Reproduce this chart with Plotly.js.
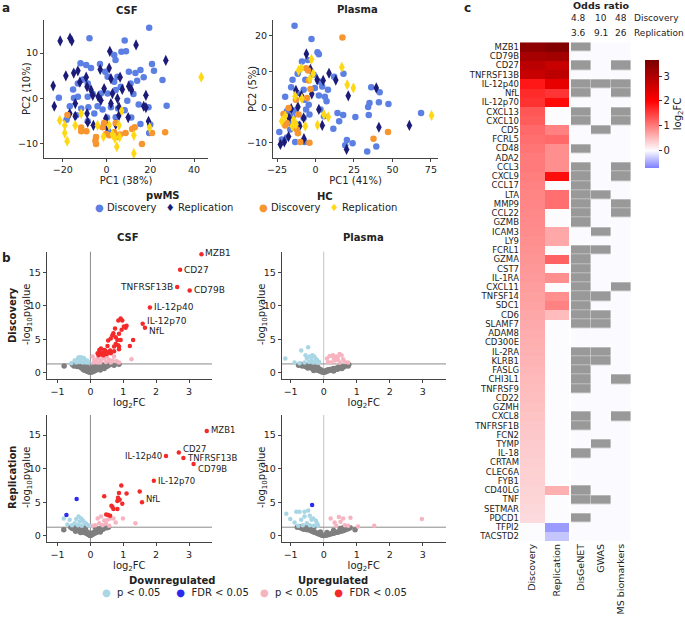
<!DOCTYPE html>
<html><head><meta charset="utf-8">
<script src="https://cdn.plot.ly/plotly-3.0.1.min.js"></script>
<style>html,body{margin:0;padding:0;background:#fff}#chart{width:685px;height:617px}</style>
</head><body><div id="chart"></div>
<script>
// ---------- Panel a: PCA ----------
const csfMsDiscPC1 = [19.5,-7.8,8.3,6.8,8.9,3.5,4.1,20.8,21.7,-11.9,-9.3,-7.1,-3,15.5,13.2,10.2,25.6,27.5,-0.6,0.5,3.5,5,-8.6,-10.8,-13.1,-15.3,-21.8,-14.9,-13.1,-8.6,-6.3,-2.6,0.5,4.2,6.5,11,14,17,12.3,14.7,19.2,-16.8,-11.6,-8.3,-4.1,-1.8,2,5.3,8.3,-5.6,0.2,4.2,11.3,-8.6,-13.8,-18.3,15.5,19.5,20,0.8,9.5];
const csfMsDiscPC2 = [15.6,13.3,12.8,10.3,10.4,9.6,8.5,7.6,6.1,7.8,7.4,6.7,7.6,6.3,5.6,5.9,4.1,-1.6,5.9,4.8,3.7,4.8,3.3,4.2,3.3,2,0.2,0.1,0.4,0.4,1,1.1,1.1,1.9,2.6,3.3,3.9,4.7,1,-1.3,-1.9,-1.7,-2.2,-1.9,-1.7,-2.4,-1.9,-2.2,-2.6,-3.3,-4.2,-4.1,-4.2,-5,-3.7,-4.7,-5.6,-7.6,-5.7,-7.2,-0.5];
const csfMsRepPC1 = [-21.2,-16.7,-15.9,13.5,1.5,27.1,-18.6,-15,-13.1,-2.9,1.2,2,6.2,-24.4,-12.2,-9.3,-8.9,-7.1,-6.3,-3.8,-1.1,2.7,5,7.2,10.2,11.4,18,-23.9,-14.3,-2.6,2,5.7,17,18,-16.8,-14.3,-8.9,-0.3,5.7,9.9,19.2,-8.6,-6,0.2,4.2];
const csfMsRepPC2 = [12.7,13.3,12.7,11.8,10.4,8.4,5,5.6,6.1,6.4,6.7,4.4,4.7,2.8,3.6,4.7,2.6,1.9,0.7,0.4,2.2,1.1,0,2,2.7,1.9,0.7,-1.7,-1.1,-0.4,-1.1,-1.9,-1.7,-2,-3.3,-3.9,-3.3,-4.4,-3.7,-4.2,-5,-5.2,-5.9,-6.1,-5.7];
const csfHcDiscPC1 = [-17.9,-11.6,-11.6,-9.2,-4.8,-4.8,-5.1,-1.1,-0.3,1.2,3.5,4.2,5,6.2,11.7,12.9,16.2,20.8,26.8,-1.8,8.7];
const csfHcDiscPC2 = [-3.6,-6.4,-7.2,-7.2,-8.5,-10,-9.3,-5.4,-7.8,-8.1,-7.4,-5.4,-8.5,-7.9,-6.7,-6.3,-10,-7.6,-7.4,-6.3,-7.6];
const csfHcRepPC1 = [-21.4,-19.1,-19.1,-18,-14.3,-11.6,-4.1,-1.4,1.2,2.7,3.8,4.7,6,6.9,12.5,12.5,19.7,43.3,5.7];
const csfHcRepPC2 = [-4.8,-5.9,-7.6,-9.4,-5.9,-3.3,-5.9,-8.4,-5.9,-7.9,-8.7,-10.6,-8.5,-2.7,-8.1,-12.1,-6.4,4.7,-5.9];

const plMsDiscPC1 = [-13.6,-2.6,1.3,2.2,-5,-8.8,-11.6,-14.9,-6.6,-1.1,2.2,4.4,-15.8,-19.7,-12.1,-7.7,-0.4,2.2,6.1,7.2,8.1,12.1,18.2,14.3,18,15.4,11.6,25.9,34.2,34.6,35.1,36.2,41.7,41.2,47.4,68.6,39.5,33.6,24.1,19.3,20.4,-23.5,-21.9,-18.6,-16.4,-13.2,-7,-11,-7.7,-13.6,-18.6,-6.1,-3.9,-7,-4.4,-14.9,-16.4,3.3,5.5];
const plMsDiscPC2 = [22.8,19.1,15.4,14.8,13.2,12.8,9.4,7.7,7.7,9.1,7.2,5.8,5.6,2.9,4,4.9,5.4,3.3,2.9,1.7,4.9,8.5,9.4,-1.6,-2.2,-3.9,-6,-2.7,0.1,-2.2,1.2,5.6,4.2,1.4,0.9,-1.6,-11,-12.4,-10.1,-10.6,-9.2,-6.9,-9,-8.5,-6.2,-9.7,-9.7,-4.8,-3,-0.9,-1.1,-0.6,-2,2.1,0.7,-2.5,-4.4,-0.6,-2.5];
const plMsRepPC1 = [-5.9,-3.3,1.1,5,8.8,13.2,21.3,39.5,41.2,61,20.2,-22.8,-20.2,-17.5,-12.7,-11.4,-9.2,-7.7,-10.3,-7.5,4.4,-2.4,-15.8,2.2,-17.1];
const plMsRepPC2 = [14.9,10.6,7.7,7.5,9.5,7.6,3.2,5.4,-5.6,-5.1,-11.8,-10.4,-9.7,-8.2,4.7,0.1,3.3,-3,-5.3,-8.8,-5.1,3.7,-0.4,-0.6,-3];
const plHcDiscPC1 = [17.5,-6.1,-4.8,-4.4,-3.3,-5.5,-12.7,-17.5,-20.8,-18.6,-11,-12.1,-11.4,-9.9,-3.9,37.7,47.1,-19.7];
const plHcDiscPC2 = [19.5,10.9,10.3,7.5,5.1,2.6,2.1,-0.2,-1.9,-4.4,-2,-6.2,-7.3,-9.7,-9.9,-8.8,-6.9,-5.1];
const plHcRepPC1 = [-9.2,-11,-2.6,-1.5,-3.7,-8.8,-13.2,-21.9,-19.7,-14.3,-12.7,-6.6,1.3,5.5,8.3,17.1,20.6,24.6,75.4,-15.1];
const plHcRepPC2 = [10.9,10.3,13.4,9.4,7.9,2.4,3.1,-3.9,-2.5,-3.6,-4.8,-5.3,-5,-2,-2.7,11.2,6.3,5.4,-2.3,-5.3];

// ---------- Panel b: volcano plots ----------
const pThreshold = 1.3; // -log10(0.05)
const csfDiscLabels = ['MZB1','CD27','TNFRSF13B','CD79B','IL-12p40','IL-12p70','NfL'];
const csfDiscRedX = [3.38,2.73,2.64,3.02,1.81,1.59,1.66,0.85,0.92,0.97,1.07,1.1,0.75,0.77,0.62,0.67,0.87,0.82,0.54,1.3,1.2,0.84,0.52,0.32,0.27,0.42,0.55,0.72,0.87,0.22,0.37,0.5,0.62,0.77,0.72,0.87,0.92,0.7,0.3,0.35,0.45,0.4,0.48,0.6,0.25,0.95,1.02];
const csfDiscRedY = [17.7,15.4,12.8,12.3,9.75,7.3,6.7,7.8,8.1,7.8,6.7,7.0,6.6,5.3,5.1,5.6,5.8,4.9,4.8,4.9,4.0,4.1,4.0,3.6,3.4,3.4,3.1,3.2,3.5,2.9,2.9,2.8,2.9,4.3,3.9,3.9,4.9,5.9,3.0,2.7,3.3,2.6,3.0,3.3,2.6,6.4,6.9];
const csfDiscPinkX = [1.25,0.87,0.72,0.07,0.12,0.22,0.32,0.42,0.17,0.3,0.47,0.57,0.62,0.37,0.5,0.22,0.1,0.68,0.8];
const csfDiscPinkY = [2.0,1.5,2.4,2.4,1.9,2.1,1.9,2.1,1.6,1.5,1.6,1.9,1.5,2.4,2.3,1.5,1.5,1.8,1.7];
const csfDiscLbX = [-0.58,-0.48,-0.38,-0.28,-0.18,-0.1,-0.33,-0.23,-0.43,-0.13,-0.3,-0.06,-0.2,-0.35];
const csfDiscLbY = [1.4,1.8,2.1,2.3,2.0,1.8,1.6,1.5,1.5,1.5,1.9,1.5,2.2,2.3];
const csfDiscGrayX = [-0.8,-0.55,-0.5,-0.45,-0.4,-0.4,-0.35,-0.3,-0.28,-0.25,-0.22,-0.2,-0.18,-0.15,-0.12,-0.1,-0.1,-0.08,-0.05,-0.03,-0.02,0,0,0.02,0.05,0.05,0.07,0.1,0.1,0.12,0.15,0.17,0.2,0.22,0.25,0.28,0.3,0.3,0.33,0.35,0.4,0.42,0.45,0.5,0.55,0.6,0.72,0.87];
const csfDiscGrayY = [1.0,1.2,1.0,1.1,0.9,1.25,1.2,0.8,1.0,0.6,0.9,0.4,1.1,0.3,0.7,0.2,0.9,0.5,0.1,0.3,0.6,0.05,0.4,0.2,0.1,0.7,0.4,0.2,0.9,0.6,0.3,0.9,0.5,1.1,0.7,1.0,0.4,1.1,1.2,0.8,1.0,0.6,1.2,0.9,1.1,1.2,1.1,1.25];
const plDiscLbX = [-1.16,-0.88,-0.73,-0.68,-0.47,-0.55,-0.51,-0.42,-0.34,-0.29,-0.24,-0.2,-0.37,-0.44,-0.27,-0.17,-0.14,-0.58,-0.32];
const plDiscLbY = [2.1,1.5,1.4,3.3,3.8,2.6,2.1,2.4,2.6,2.4,2.1,1.9,1.9,1.6,1.6,1.5,1.6,1.5,1.5];
const plDiscPinkX = [0.1,0.18,0.28,0.38,0.48,0.54,0.43,0.59,0.74,0.64,0.33,0.13,0.23,0.5,0.3,0.42];
const plDiscPinkY = [2.1,2.5,2.6,2.4,2.8,2.6,1.9,2.0,1.5,1.6,1.8,1.6,1.5,1.5,2.2,2.3];
const plDiscGrayX = [-0.76,-0.7,-0.65,-0.6,-0.55,-0.5,-0.48,-0.45,-0.4,-0.38,-0.35,-0.3,-0.28,-0.25,-0.2,-0.18,-0.15,-0.12,-0.1,-0.08,-0.05,-0.02,0,0.02,0.05,0.08,0.1,0.12,0.15,0.18,0.2,0.25,0.28,0.3,0.35,0.4,0.42,0.45,0.5,0.55,0.6,0.65,0.7,0.74,0.76,0.3,-0.3,0.55];
const plDiscGrayY = [1.1,1.2,1.0,1.25,0.9,1.1,0.7,1.2,0.8,1.0,0.6,0.9,0.5,0.7,0.4,0.8,0.3,0.5,0.2,0.4,0.1,0.2,0.05,0.15,0.1,0.3,0.2,0.4,0.3,0.45,0.35,0.5,0.4,0.6,0.55,0.7,0.5,0.8,0.75,0.9,0.85,1.0,1.1,1.0,1.2,0.25,0.3,0.6];
const csfRepLabels = ['MZB1','CD27','TNFRSF13B','CD79B','IL-12p40','IL-12p70','NfL'];
const csfRepRedX = [3.54,2.69,2.83,3.14,2.3,1.93,1.57,0.94,0.87,1.1,1.5,0.42,0.84,0.89,0.82,0.97,0.64,0.67,0.7,0.82,0.48,0.54,0.6];
const csfRepRedY = [15.6,12.4,11.6,10.7,11.9,8.2,5.0,7.5,6.4,6.3,6.6,5.9,5.7,5.4,5.2,4.8,4.5,4.3,4.0,4.0,3.2,3.1,3.0];
const csfRepBlueX = [-0.42,-0.73];
const csfRepBlueY = [5.5,3.1];
const csfRepLbX = [-0.81,-0.63,-0.36,-0.43,-0.28,-0.23,-0.18,-0.33,-0.13,-0.48,-0.08,-0.56,-0.38,-0.26,-0.03,-0.7];
const csfRepLbY = [2.6,2.4,2.9,2.5,2.6,2.3,2.0,2.1,1.8,1.9,1.6,1.6,1.6,1.5,1.5,1.7];
const csfRepPinkX = [0.22,0.32,0.42,0.52,0.6,0.7,0.77,0.99,1.37,0.27,0.37,0.47,0.57,0.15,0.07];
const csfRepPinkY = [2.6,2.9,2.3,2.4,2.6,2.6,2.0,2.6,1.9,1.9,1.6,1.8,1.5,1.6,1.5];
const csfRepGrayX = [-0.81,-0.6,-0.55,-0.5,-0.45,-0.4,-0.38,-0.35,-0.3,-0.28,-0.25,-0.22,-0.2,-0.18,-0.15,-0.12,-0.1,-0.08,-0.05,-0.02,0,0.02,0.05,0.08,0.1,0.12,0.15,0.18,0.2,0.22,0.25,0.28,0.3,0.33,0.35,0.38,0.4,0.45,0.5,0.55,-0.3,0.3,-0.15,0.15,0,-0.45];
const csfRepGrayY = [0.9,1.3,1.1,1.2,1.0,1.25,0.8,1.1,0.9,0.7,1.2,0.6,1.0,0.5,0.8,0.4,0.6,0.3,0.2,0.1,0.05,0.15,0.2,0.3,0.5,0.4,0.6,0.5,0.8,0.7,1.0,0.8,1.1,0.9,1.2,1.0,1.1,1.25,1.2,1.3,0.5,0.6,1.2,1.2,0.4,0.7];
const plRepBlueX = [-0.35];
const plRepBlueY = [4.6];
const plRepLbX = [-1.13,-1.01,-0.83,-0.73,-0.58,-0.47,-0.88,-0.68,-0.58,-0.42,-0.37,-0.32,-0.24,-0.2,-0.51,-0.63,-0.42,-0.3,-0.77,-0.17];
const plRepLbY = [3.3,2.5,3.6,3.6,3.6,3.8,2.0,2.4,2.9,3.0,2.4,2.6,2.3,1.9,1.9,1.6,1.6,1.5,1.5,1.5];
const plRepPinkX = [0.21,0.46,0.59,0.81,0.33,0.51,0.64,0.74,1.04,1.53,2.97,0.38];
const plRepPinkY = [2.6,2.8,2.6,2.7,2.0,2.1,1.6,1.5,1.4,1.5,2.5,1.5];
const plRepGrayX = [-0.8,-0.7,-0.65,-0.6,-0.55,-0.5,-0.45,-0.4,-0.35,-0.3,-0.25,-0.2,-0.15,-0.1,-0.05,0,0.05,0.1,0.15,0.2,0.25,0.3,0.35,0.4,0.45,0.5,0.55,0.6,0.65,0.7,0.75,0.8,0.95,-0.5,-0.3,-0.1,0.1,0.3,0.5,0.7,-0.7,0.6];
const plRepGrayY = [1.3,1.2,1.1,1.0,1.2,0.9,1.1,0.8,0.7,0.6,0.5,0.4,0.3,0.2,0.1,0.05,0.1,0.15,0.2,0.3,0.35,0.4,0.5,0.55,0.6,0.7,0.75,0.8,0.9,1.0,1.1,1.2,0.9,1.3,1.2,0.6,0.5,0.8,1.1,1.3,1.35,1.25];

// ---------- Panel c: heatmap ----------
const genes = ['MZB1','CD79B','CD27','TNFRSF13B','IL-12p40','NfL','IL-12p70','CXCL13','CXCL10','CD5','FCRL5','CD48','ADA2','CCL3','CXCL9','CCL17','LTA','MMP9','CCL22','GZMB','ICAM3','LY9','FCRL1','GZMA','CST7','IL-1RA','CXCL11','TNFSF14','SDC1','CD6','SLAMF7','ADAM8','CD300E','IL-2RA','KLRB1','FASLG','CHI3L1','TNFRSF9','CD22','GZMH','CXCL8','TNFRSF1B','FCN2','TYMP','IL-18','CRTAM','CLEC6A','FYB1','CD40LG','TNF','SETMAR','PDCD1','TFPI2','TACSTD2'];
const discFC = [3.4,3.1,2.85,2.7,1.81,1.66,1.59,1.3,1.25,1.15,1.1,1.05,1.0,1.0,0.97,0.95,0.93,0.92,0.9,0.88,0.87,0.85,0.82,0.8,0.78,0.76,0.74,0.72,0.7,0.66,0.64,0.62,0.6,0.58,0.56,0.54,0.52,0.5,0.48,0.46,0.44,0.42,0.4,0.38,0.37,0.35,0.34,0.33,0.31,0.3,0.28,0.26,0,0];
const repFC = [3.54,3.14,2.69,2.83,2.3,1.57,1.93,0,0,0.95,1.15,0.85,0.85,0.85,1.9,0,1.1,1.1,0,0,0.65,0.65,0,1.2,0,0.85,0,0.85,0.95,0.5,0,0,0,0,0,0,0,0,0,0,0,0,0,0,0,0,0,0,0.6,0,0,0,-0.55,-0.3];
const disgenet = [1,0,1,0,1,1,0,1,1,0, 0,1,0,1,1,1,1,1,1,1, 0,0,1,1,1,1,1,1,1,1, 1,0,0,1,1,1,1,1,0,0, 1,1,0,0,1,0,0,0,1,1, 0,1,0,0];
const gwas     = [0,0,0,0,1,0,0,0,0,1, 0,0,0,0,0,0,1,0,0,0, 1,0,1,0,0,0,0,1,0,1, 1,0,0,1,1,0,0,0,0,0, 0,0,0,1,0,0,0,0,0,1, 0,0,0,0];
const msBiomarkers = [0,0,1,0,1,1,0,1,1,0, 0,0,0,1,1,0,0,1,1,0, 0,0,0,0,0,0,1,0,0,0, 0,0,0,0,0,0,1,0,0,0, 1,0,0,0,0,0,0,0,0,0, 0,0,0,0];
const heatCols = ['Discovery','Replication'];
const annotCols = ['DisGeNET','GWAS','MS biomarkers'];
const oddsDisc = ['4.8','10','48'];
const oddsRep = ['3.6','9.1','26'];

// ---------- build ----------
const F = 'DejaVu Sans';
const W = 685, H = 617;
const X = p => p / W, Y = p => 1 - p / H;
const C = {msDisc:'#5b7fe2', msRep:'#1c1c78', hcDisc:'#f7952e', hcRep:'#ffd814',
  gray:'#7f7f7f', lb:'#a9d6e5', blue:'#2b2bf0', pink:'#f6b3c0', red:'#f42a2a'};

function sc(xa, ya, x, y, color, size, symbol) {
  return {type:'scatter', mode:'markers', x:x, y:y, xaxis:xa, yaxis:ya, showlegend:false, hoverinfo:'skip',
    marker:{color:color, size:size, symbol:symbol||'circle', line:{width:0}}};
}
const traces = [
  sc('x','y',csfMsDiscPC1,csfMsDiscPC2,C.msDisc,6.5),
  sc('x','y',csfMsRepPC1,csfMsRepPC2,C.msRep,8,'diamond-tall'),
  sc('x','y',csfHcDiscPC1,csfHcDiscPC2,C.hcDisc,6.5),
  sc('x','y',csfHcRepPC1,csfHcRepPC2,C.hcRep,8,'diamond-tall'),
  sc('x2','y2',plMsDiscPC1,plMsDiscPC2,C.msDisc,6.5),
  sc('x2','y2',plMsRepPC1,plMsRepPC2,C.msRep,8,'diamond-tall'),
  sc('x2','y2',plHcDiscPC1,plHcDiscPC2,C.hcDisc,6.5),
  sc('x2','y2',plHcRepPC1,plHcRepPC2,C.hcRep,8,'diamond-tall'),

  sc('x3','y3',csfDiscGrayX,csfDiscGrayY,C.gray,5.5),
  sc('x3','y3',csfDiscLbX,csfDiscLbY,C.lb,4.5),
  sc('x3','y3',csfDiscPinkX,csfDiscPinkY,C.pink,4.5),
  sc('x3','y3',csfDiscRedX,csfDiscRedY,C.red,4.5),

  sc('x4','y4',plDiscGrayX,plDiscGrayY,C.gray,5.5),
  sc('x4','y4',plDiscLbX,plDiscLbY,C.lb,4.5),
  sc('x4','y4',plDiscPinkX,plDiscPinkY,C.pink,4.5),

  sc('x5','y5',csfRepGrayX,csfRepGrayY,C.gray,5.5),
  sc('x5','y5',csfRepLbX,csfRepLbY,C.lb,4.5),
  sc('x5','y5',csfRepPinkX,csfRepPinkY,C.pink,4.5),
  sc('x5','y5',csfRepBlueX,csfRepBlueY,C.blue,4.5),
  sc('x5','y5',csfRepRedX,csfRepRedY,C.red,4.5),

  sc('x6','y6',plRepGrayX,plRepGrayY,C.gray,5.5),
  sc('x6','y6',plRepLbX,plRepLbY,C.lb,4.5),
  sc('x6','y6',plRepPinkX,plRepPinkY,C.pink,4.5),
  sc('x6','y6',plRepBlueX,plRepBlueY,C.blue,4.5),
];

const zmin = -0.7, zmax = 3.65;
const pos = v => (v - zmin) / (zmax - zmin);
const fcScale = [[0,'#7f7fff'],[pos(0),'#fcfcff'],[pos(1),'#ff7b7b'],[pos(2),'#ff0000'],[1,'#7a0000']];
traces.push({type:'heatmap', x:heatCols, y:genes, z:genes.map((g,i)=>[discFC[i], repFC[i]]),
  xaxis:'x7', yaxis:'y7', zmin:zmin, zmax:zmax, colorscale:fcScale, hoverinfo:'skip',
  colorbar:{x:X(645), xanchor:'left', xpad:0, ypad:0, y:Y(60), yanchor:'top', len:108/H, lenmode:'fraction',
    thickness:14, outlinewidth:0, tickvals:[0,1,2,3], ticks:'outside', ticklen:3, tickcolor:'#333',
    tickfont:{family:F, size:10, color:'#222'},
    title:{text:'log<sub>2</sub>FC', side:'right', font:{family:F, size:10, color:'#222'}}}});
traces.push({type:'heatmap', x:annotCols, y:genes,
  z:genes.map((g,i)=>[disgenet[i], gwas[i], msBiomarkers[i]]),
  xaxis:'x8', yaxis:'y8', zmin:0, zmax:1, showscale:false, hoverinfo:'skip', xgap:0.4, ygap:0.4,
  colorscale:[[0,'#fbfbff'],[1,'#999999']]});

const tf = {family:F, size:9.5, color:'#222'};
const ttl = {family:F, size:10, color:'#222'};
function xa(dom, anchor, range, tickvals, title) {
  const a = {domain:dom, anchor:anchor, range:range, tickvals:tickvals, showline:true, linecolor:'#444', linewidth:1,
    ticks:'outside', ticklen:3, tickcolor:'#444', showgrid:false, zeroline:false, tickfont:tf};
  if (title) a.title = {text:title, font:ttl, standoff:0};
  return a;
}
const pcaY = [Y(158), Y(20)];
const vdY = [Y(379.3), Y(251.7)];
const vrY = [Y(542.3), Y(415)];
const vlX = [X(46.7), X(212)];
const vrX = [X(281.7), X(446)];
const vTicks = [-1,0,1,2,3];
const yTicks = [0,5,10,15];
const layout = {
  width:W, height:H, margin:{l:0,r:0,t:0,b:0,autoexpand:false}, paper_bgcolor:'#fff', plot_bgcolor:'#fff',
  font:{family:F, color:'#222'}, showlegend:false,
  xaxis: xa([X(44),X(208)],'y',[-28.6,46.4],[-20,0,20,40],'PC1 (38%)'),
  yaxis: xa(pcaY,'x',[-13.1,17.3],[-10,0,10]),
  xaxis2: xa([X(273),X(438)],'y2',[-27.6,79.6],[-25,0,25,50,75],'PC1 (41%)'),
  yaxis2: xa(pcaY,'x2',[-14.2,24.4],[-10,0,10,20]),
  xaxis3: xa(vlX,'y3',[-1.33,3.7],vTicks,'log<sub>2</sub>FC'),
  yaxis3: xa(vdY,'x3',[-1,18.1],yTicks),
  xaxis4: xa(vrX,'y4',[-1.27,3.7],vTicks,'log<sub>2</sub>FC'),
  yaxis4: xa(vdY,'x4',[-1,18.1],yTicks),
  xaxis5: xa(vlX,'y5',[-1.33,3.7],vTicks,'log<sub>2</sub>FC'),
  yaxis5: xa(vrY,'x5',[-0.95,18],yTicks),
  xaxis6: xa(vrX,'y6',[-1.27,3.7],vTicks,'log<sub>2</sub>FC'),
  yaxis6: xa(vrY,'x6',[-0.95,18],yTicks),
  xaxis7: {domain:[X(520),X(569)], anchor:'y7', tickangle:-90, ticks:'', showgrid:false, zeroline:false,
    showline:false, tickfont:{family:F,size:9.5,color:'#222'}},
  yaxis7: {domain:[Y(541),Y(42.3)], anchor:'x7', autorange:'reversed', ticks:'', showgrid:false, zeroline:false,
    tickfont:{family:F,size:8.5,color:'#222'}, dtick:1},
  xaxis8: {domain:[X(571),X(631)], anchor:'y8', tickangle:-90, ticks:'', showgrid:false, zeroline:false,
    showline:false, tickfont:{family:F,size:9.5,color:'#222'}},
  yaxis8: {domain:[Y(541),Y(42.3)], anchor:'x8', autorange:'reversed', showticklabels:false, ticks:'',
    showgrid:false, zeroline:false},
  shapes:[], annotations:[]
};
['3','4','5','6'].forEach(k => {
  const vx = k==='4'||k==='6';
  layout.shapes.push({type:'line', xref:'x'+k, yref:'y'+k+' domain', x0:0, x1:0, y0:0, y1:1,
    line:{color: vx?'#c4c4c4':'#8a8a8a', width:1}, layer:'below'});
  layout.shapes.push({type:'line', xref:'x'+k+' domain', yref:'y'+k, x0:0, x1:1, y0:pThreshold, y1:pThreshold,
    line:{color:'#8a8a8a', width:1}, layer:'below'});
});
const A = layout.annotations;
function txt(x, y, text, size, opts) {
  A.push(Object.assign({xref:'paper', yref:'paper', x:X(x), y:Y(y), text:text, showarrow:false,
    font:{family:F, size:size||10, color:'#222'}, xanchor:'center', yanchor:'middle'}, opts||{}));
}
// panel letters
txt(6,8,'<b>a</b>',12); txt(6,258,'<b>b</b>',12); txt(467,8,'<b>c</b>',12);
// titles
txt(127,11,'<b>CSF</b>',10); txt(357,10,'<b>Plasma</b>',10);
txt(128,238,'<b>CSF</b>',10); txt(363,237,'<b>Plasma</b>',10);
// y axis titles
txt(27,89,'PC2 (10%)',10,{textangle:-90});
txt(253,89,'PC2 (5%)',10,{textangle:-90});
const ylog = '-log<sub>10</sub>pvalue';
txt(27,315,ylog,10,{textangle:-90}); txt(262,315,ylog,10,{textangle:-90});
txt(27,478,ylog,10,{textangle:-90}); txt(262,478,ylog,10,{textangle:-90});
// panel a legends
txt(163,195,'<b>pwMS</b>',10); txt(325,196,'<b>HC</b>',10);
txt(93,207,'<span style="color:'+C.msDisc+'">●</span> Discovery   <span style="color:'+C.msRep+'">♦</span> Replication',10,{xanchor:'left'});
txt(257,207,'<span style="color:'+C.hcDisc+'">●</span> Discovery   <span style="color:'+C.hcRep+'">♦</span> Replication',10,{xanchor:'left'});
// row labels
txt(12,315,'<b>Discovery</b>',10,{textangle:-90});
txt(12,478,'<b>Replication</b>',10,{textangle:-90});
// bottom legend
txt(172,580,'<b>Downregulated</b>',10); txt(333,580,'<b>Upregulated</b>',10);
txt(100,592,'<span style="color:'+C.lb+'">●</span>  p < 0.05     <span style="color:'+C.blue+'">●</span>  FDR < 0.05',10,{xanchor:'left'});
txt(258,592,'<span style="color:'+C.pink+'">●</span>  p < 0.05     <span style="color:'+C.red+'">●</span>  FDR < 0.05',10,{xanchor:'left'});
// odds ratio header
txt(601,6,'<b>Odds ratio</b>',9.5);
const orX = [578,601,621];
oddsDisc.forEach((t,i)=>txt(orX[i],18,t,9));
oddsRep.forEach((t,i)=>txt(orX[i],33,t,9));
txt(632,18,'Discovery',9,{xanchor:'left'});
txt(632,33,'Replication',9,{xanchor:'left'});
// volcano labels
const discAnch = ['left','left','right','left','left','left','left'];
const discShift = [1,0,0,0,0,3,-3];
csfDiscLabels.forEach((g,i)=>A.push({xref:'x3', yref:'y3', x:csfDiscRedX[i], y:csfDiscRedY[i], text:g, showarrow:false,
  xanchor:discAnch[i], yanchor:'middle', xshift: discAnch[i]==='left'?2:-2, yshift:discShift[i],
  font:{family:F,size:9,color:'#222'}}));
const repAnch = ['left','left','left','left','right','left','left'];
const repShift = [1,4,0,-5,0,0,3];
csfRepLabels.forEach((g,i)=>A.push({xref:'x5', yref:'y5', x:csfRepRedX[i], y:csfRepRedY[i], text:g, showarrow:false,
  xanchor:repAnch[i], yanchor:'middle', xshift: repAnch[i]==='left'?2:-2, yshift:repShift[i],
  font:{family:F,size:8.5,color:'#222'}}));

Plotly.newPlot('chart', traces, layout, {staticPlot:true, displayModeBar:false});
</script></body></html>
